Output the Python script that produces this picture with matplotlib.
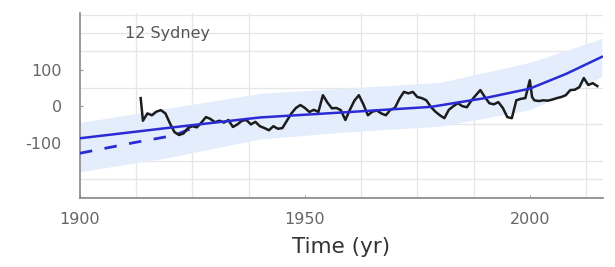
import numpy as np
import matplotlib
matplotlib.use("Agg")
import matplotlib.pyplot as plt

plt.rcParams["axes.unicode_minus"] = False

# observed record (black)
obs_years = [1913.5, 1914, 1915, 1916, 1917, 1918, 1919, 1920, 1921, 1922, 1923, 1924,
             1925, 1926, 1927, 1928, 1929, 1930, 1931, 1932, 1933, 1934, 1935, 1936,
             1937, 1938, 1939, 1940, 1941, 1942, 1943, 1944, 1945, 1946, 1947, 1948,
             1949, 1950, 1951, 1952, 1953, 1954, 1955, 1956, 1957, 1958, 1959, 1960,
             1961, 1962, 1963, 1964, 1965, 1966, 1967, 1968, 1969, 1970, 1971, 1972,
             1973, 1974, 1975, 1976, 1977, 1978, 1979, 1980, 1981, 1982, 1983, 1984,
             1985, 1986, 1987, 1988, 1989, 1990, 1991, 1992, 1993, 1994, 1995, 1996,
             1997, 1998, 1999, 2000, 2000.5, 2001, 2002, 2003, 2004, 2005, 2006, 2007,
             2008, 2009, 2010, 2011, 2012, 2013, 2014, 2015]
obs_vals = [22, -40, -20, -25, -15, -11, -20, -47, -71, -79, -75, -60,
            -55, -58, -45, -30, -35, -44, -40, -45, -38, -57, -50, -40,
            -38, -50, -43, -55, -60, -66, -55, -62, -60, -40, -20, -5,
            3, -5, -16, -10, -16, 30, 10, -6, -5, -11, -38, -10,
            15, 30, 5, -25, -15, -12, -20, -25, -10, -5, 20, 39,
            35, 39, 25, 22, 16, -2, -15, -25, -33, -10, 0, 8,
            0, -3, 15, 30, 44, 25, 8, 5, 11, -5, -30, -33,
            16, 20, 22, 71, 25, 16, 14, 16, 15, 18, 22, 25,
            30, 44, 45, 52, 77, 58, 63, 55]

# fitted trend (blue)
fit_years = [1900, 1920, 1940, 1960, 1978, 1990, 2000, 2008, 2016]
fit_vals = [-88, -59, -31, -16, -2, 22, 48, 88, 135]

# early trend (blue dashed)
dash_years = [1900, 1912, 1921, 1926]
dash_vals = [-129, -100, -80, -55]

# uncertainty band
band_years = [1900, 1920, 1940, 1960, 1980, 2000, 2016]
band_lo = [-180, -140, -90, -70, -55, -10, 80]
band_hi = [-45, -5, 35, 50, 65, 120, 185]

fig = plt.figure(figsize=(6.15, 2.67), dpi=100)
ax = fig.add_axes([0.130, 0.258, 0.850, 0.693])

ax.fill_between(band_years, band_lo, band_hi, color="#e4edfb", lw=0, zorder=1)
ax.plot(dash_years, dash_vals, color="#2b2bd6", lw=2, dashes=(4.5, 4.5), zorder=3)
ax.plot(obs_years, obs_vals, color="#1c1c1c", lw=1.8, zorder=4)
ax.plot(fit_years, fit_vals, color="#2b2bd6", lw=1.8, zorder=5)

ax.set_xlim(1900, 2016.2)
ax.set_ylim(-252, 255)

ax.set_xticks([1900, 1950, 2000])
ax.set_yticks([-100, 0, 100])
ax.set_xticks(np.arange(1900, 2016, 12.5), minor=True)
ax.set_yticks(np.arange(-250, 251, 50), minor=True)
ax.grid(which="minor", color="#e6e6e6", lw=0.9)
ax.set_axisbelow(True)

ax.tick_params(which="major", length=2, color="#999999", labelsize=11.5,
               labelcolor="#666666", direction="in")
ax.tick_params(axis="y", pad=13)
ax.tick_params(axis="x", pad=10)
ax.tick_params(which="minor", length=0)

for s in ["top", "right"]:
    ax.spines[s].set_visible(False)
for s in ["left", "bottom"]:
    ax.spines[s].set_color("#888888")
    ax.spines[s].set_linewidth(1.2)

ax.text(0.086, 0.89, "12 Sydney", transform=ax.transAxes, fontsize=11.5,
        color="#555555", va="center", ha="left")
ax.set_xlabel("Time (yr)", fontsize=15.5, color="#333333", labelpad=7)

fig.savefig("out.png", dpi=100)
